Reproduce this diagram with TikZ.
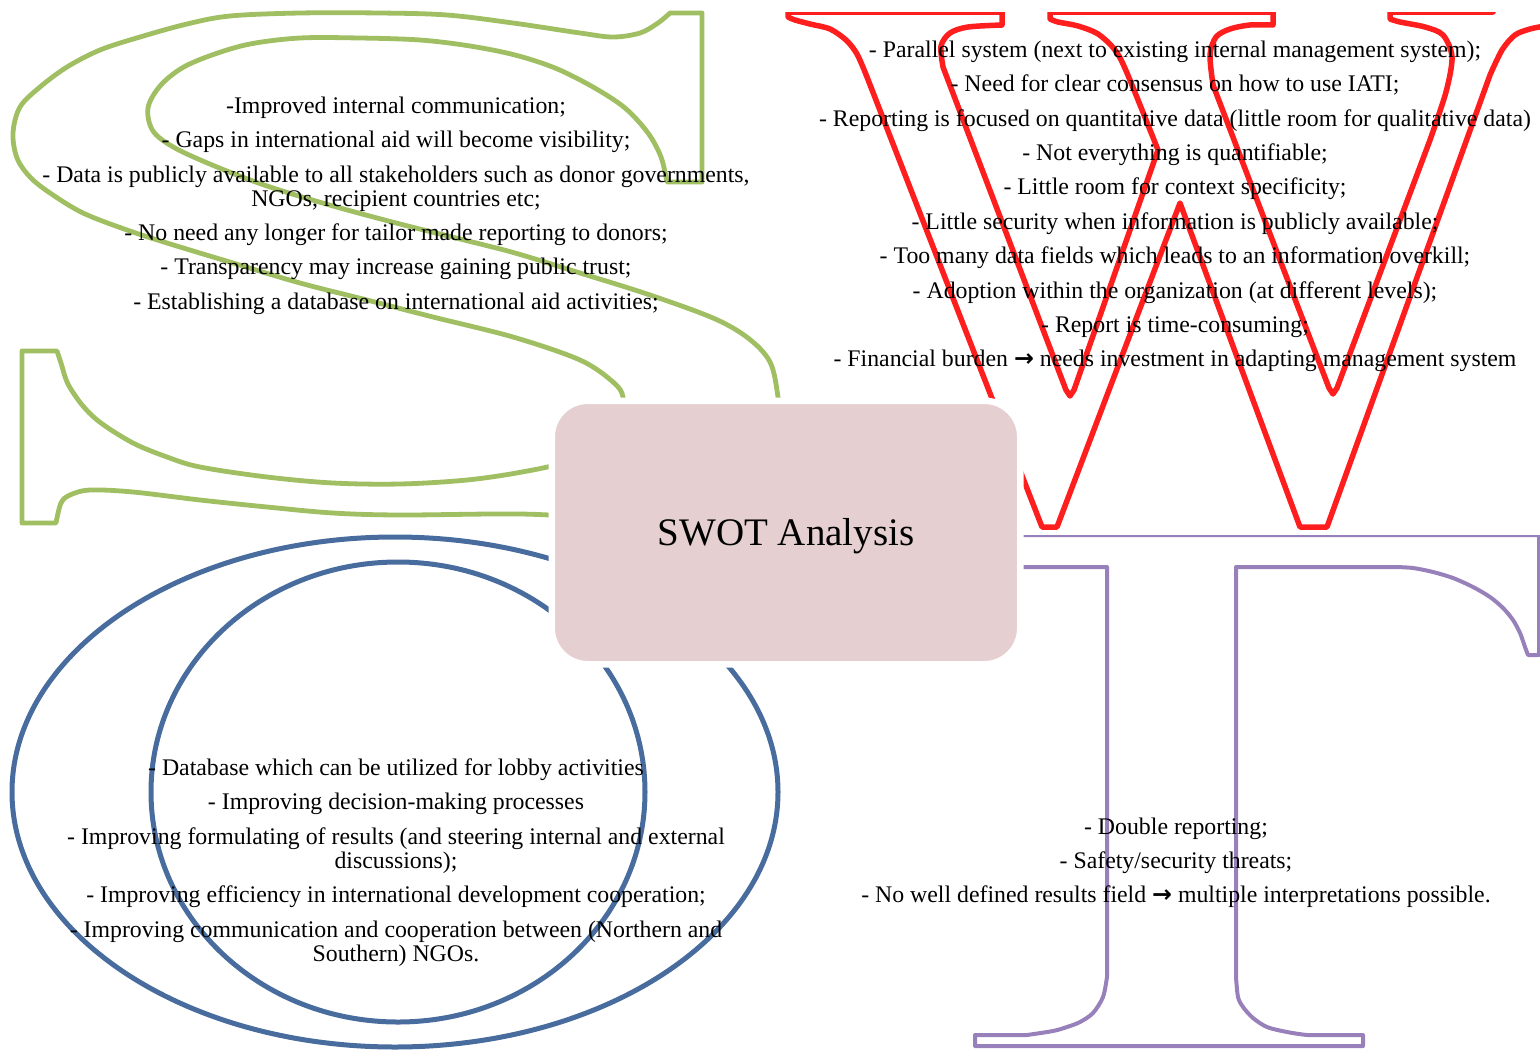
\documentclass[tikz,border=0pt]{standalone}
\usepackage{fontspec}
\setmainfont{Liberation Serif}
\newfontfamily\arrowfont{DejaVu Sans}
\definecolor{sgreen}{RGB}{160,190,98}
\definecolor{wred}{RGB}{255,30,30}
\definecolor{oblue}{RGB}{72,108,158}
\definecolor{tpurple}{RGB}{152,128,186}
\definecolor{boxpink}{RGB}{230,207,208}
\newcommand{\rarr}{{\arrowfont\bfseries →}}
\begin{document}
\begin{tikzpicture}[x=1pt,y=-1pt,
  sline/.style={draw=sgreen, line width=4.8pt, line join=round},
  wline/.style={draw=wred, line width=5.5pt, line join=round},
  oline/.style={draw=oblue, line width=5pt},
  tline/.style={draw=tpurple, line width=4pt, line join=round},
  corebox/.style={draw=white, line width=6.5pt, fill=boxpink, rounded corners=36pt,
                  minimum width=468.5pt, minimum height=263.5pt, inner sep=0pt},
  title/.style={anchor=base, inner sep=0pt, font=\fontsize{39}{40}\selectfont},
  item/.style={anchor=base, inner sep=0pt, font=\fontsize{23.8}{25}\selectfont},
]
\useasboundingbox (0,0) rectangle (1540,1050);

% ---- S : strengths ----
\begin{scope}
\clip (0,0) rectangle (1540,1050);
\draw[sline]
 (670,13) -- (702,13) -- (702,182) -- (667,182)
 -- plot[smooth,tension=0.55] coordinates {(667,182) (661,157) (648,133) (625,108) (593,87) (555,68) (515,55) (470,46) (420,40) (360,38) (300,38) (250,44) (212,55) (182,68) (160,86) (148,108) (153,131) (175,148) (217,167) (267,186) (333,206) (400,224) (460,239) (515,253) (580,273) (647,294) (713,318) (748,338) (770,362) (778,397) (782,440) (770,480) (738,505) (680,517) (610,518) (520,514) (400,515) (333,513) (267,507) (200,500) (133,492) (90,490) (70,495) (61,503) (56,523)}
 -- (22,523) -- (22,351) -- (57,351)
 -- plot[smooth,tension=0.55] coordinates {(57,351) (61,363) (68,384) (83,406) (101,423) (133,443) (167,457) (200,467) (267,477) (333,483) (400,484) (467,480) (522,472) (565,462) (600,443) (620,420) (623,397) (613,382) (580,360) (513,337) (433,317) (367,300) (300,283) (233,263) (167,243) (127,230) (83,213) (50,193) (30,177) (17,158) (13,133) (20,107) (40,87) (67,67) (100,50) (140,37) (187,24) (230,16) (300,13) (380,13) (447,15) (513,23) (580,33) (613,37) (640,33) (658,23) (670,13)}
 -- cycle;
\end{scope}

% ---- W : weaknesses ----
\begin{scope}
\clip (0,12) rectangle (1540,1050);
\draw[wline]
 (788,12) -- (1002,12) -- (1002,25)
 -- plot[smooth] coordinates {(1002,25) (968,27) (950,33) (941,46) (943,67)}
 -- (1066,390) -- (1070,396) -- (1074,390)
 -- (1158,150)
 -- plot[smooth] coordinates {(1158,150) (1127,73) (1115,50) (1098,34) (1078,26) (1058,22) (1050,19)}
 -- (1050,12) -- (1273,12) -- (1273,25)
 -- plot[smooth] coordinates {(1273,25) (1250,25) (1230,29) (1216,37) (1210,55) (1213,85)}
 -- (1329,388) -- (1333,394) -- (1337,388)
 -- (1430,140)
 -- plot[smooth] coordinates {(1430,140) (1446,92) (1452,57) (1443,35) (1425,27) (1400,22) (1390,19)}
 -- (1390,12) -- (1493,12) -- (1496,-10) -- (1570,-10) -- (1570,22) -- (1545,26)
 -- plot[smooth] coordinates {(1545,26) (1530,29) (1515,35) (1502,50) (1490,75)}
 -- (1327,527) -- (1300,527) -- (1180,203) -- (1057,527) -- (1042,527)
 -- (867,77)
 -- plot[smooth] coordinates {(867,77) (857,54) (846,40) (830,29) (810,24) (795,20) (788,17)}
 -- cycle;
\end{scope}

% ---- O : opportunities ----
\draw[oline] (395,792) ellipse [x radius=383, y radius=255];
\draw[oline] (398,792) ellipse [x radius=247, y radius=230];

% ---- T : threats ----
\begin{scope}
\clip (0,535) rectangle (1540,1050);
\draw[tline]
 (1000,535) -- (1539,535) -- (1539,655) -- (1528,655)
 -- plot[smooth] coordinates {(1528,655) (1525,647) (1520,633) (1513,620) (1503,608) (1490,597) (1473,587) (1453,578) (1433,572) (1413,568) (1395,567)}
 -- (1236,567) -- (1236,977)
 -- plot[smooth] coordinates {(1236,977) (1238,997) (1243,1007) (1253,1018) (1267,1027) (1287,1032) (1307,1035) (1320,1035)}
 -- (1363,1035) -- (1363,1046) -- (975,1046) -- (975,1035) -- (1027,1035)
 -- plot[smooth] coordinates {(1027,1035) (1053,1031) (1067,1027) (1080,1022) (1093,1013) (1103,997) (1107,977)}
 -- (1107,567) -- (1000,567);
\end{scope}

% ---- central box ----
\node[corebox] (core) at (786,532.5) {};
\node[title] (coretitle) at (786,545) {SWOT Analysis};

% ---- strengths text ----
\node[item] (s1) at (396,113) {-Improved internal communication;};
\node[item] (s2) at (396,147.5) {- Gaps in international aid will become visibility;};
\node[item] (s3) at (396,182) {- Data is publicly available to all stakeholders such as donor governments,};
\node[item] (s3b) at (396,206) {NGOs, recipient countries etc;};
\node[item] (s4) at (396,240) {- No need any longer for tailor made reporting to donors;};
\node[item] (s5) at (396,274.5) {- Transparency may increase gaining public trust;};
\node[item] (s6) at (396,309) {- Establishing a database on international aid activities;};

% ---- weaknesses text ----
\node[item] (w1) at (1175,57.3) {- Parallel system (next to existing internal management system);};
\node[item] (w2) at (1175,91.7) {- Need for clear consensus on how to use IATI;};
\node[item] (w3) at (1175,126.1) {- Reporting is focused on quantitative data (little room for qualitative data)};
\node[item] (w4) at (1175,160.5) {- Not everything is quantifiable;};
\node[item] (w5) at (1175,194.9) {- Little room for context specificity;};
\node[item] (w6) at (1175,229.3) {- Little security when information is publicly available;};
\node[item] (w7) at (1175,263.7) {- Too many data fields which leads to an information overkill;};
\node[item] (w8) at (1175,298.1) {- Adoption within the organization (at different levels);};
\node[item] (w9) at (1175,332.5) {- Report is time-consuming;};
\node[item] (w10) at (1175,366.9) {- Financial burden \rarr{} needs investment in adapting management system};

% ---- opportunities text ----
\node[item] (o1) at (396,775) {- Database which can be utilized for lobby activities};
\node[item] (o2) at (396,809.5) {- Improving decision-making processes};
\node[item] (o3) at (396,844) {- Improving formulating of results (and steering internal and external};
\node[item] (o3b) at (396,868) {discussions);};
\node[item] (o4) at (396,902.5) {- Improving efficiency in international development cooperation;};
\node[item] (o5) at (396,937) {- Improving communication and cooperation between (Northern and};
\node[item] (o5b) at (396,961) {Southern) NGOs.};

% ---- threats text ----
\node[item] (t1) at (1176,834) {- Double reporting;};
\node[item] (t2) at (1176,868) {- Safety/security threats;};
\node[item] (t3) at (1176,902.5) {- No well defined results field \rarr{} multiple interpretations possible.};
\end{tikzpicture}
\end{document}
